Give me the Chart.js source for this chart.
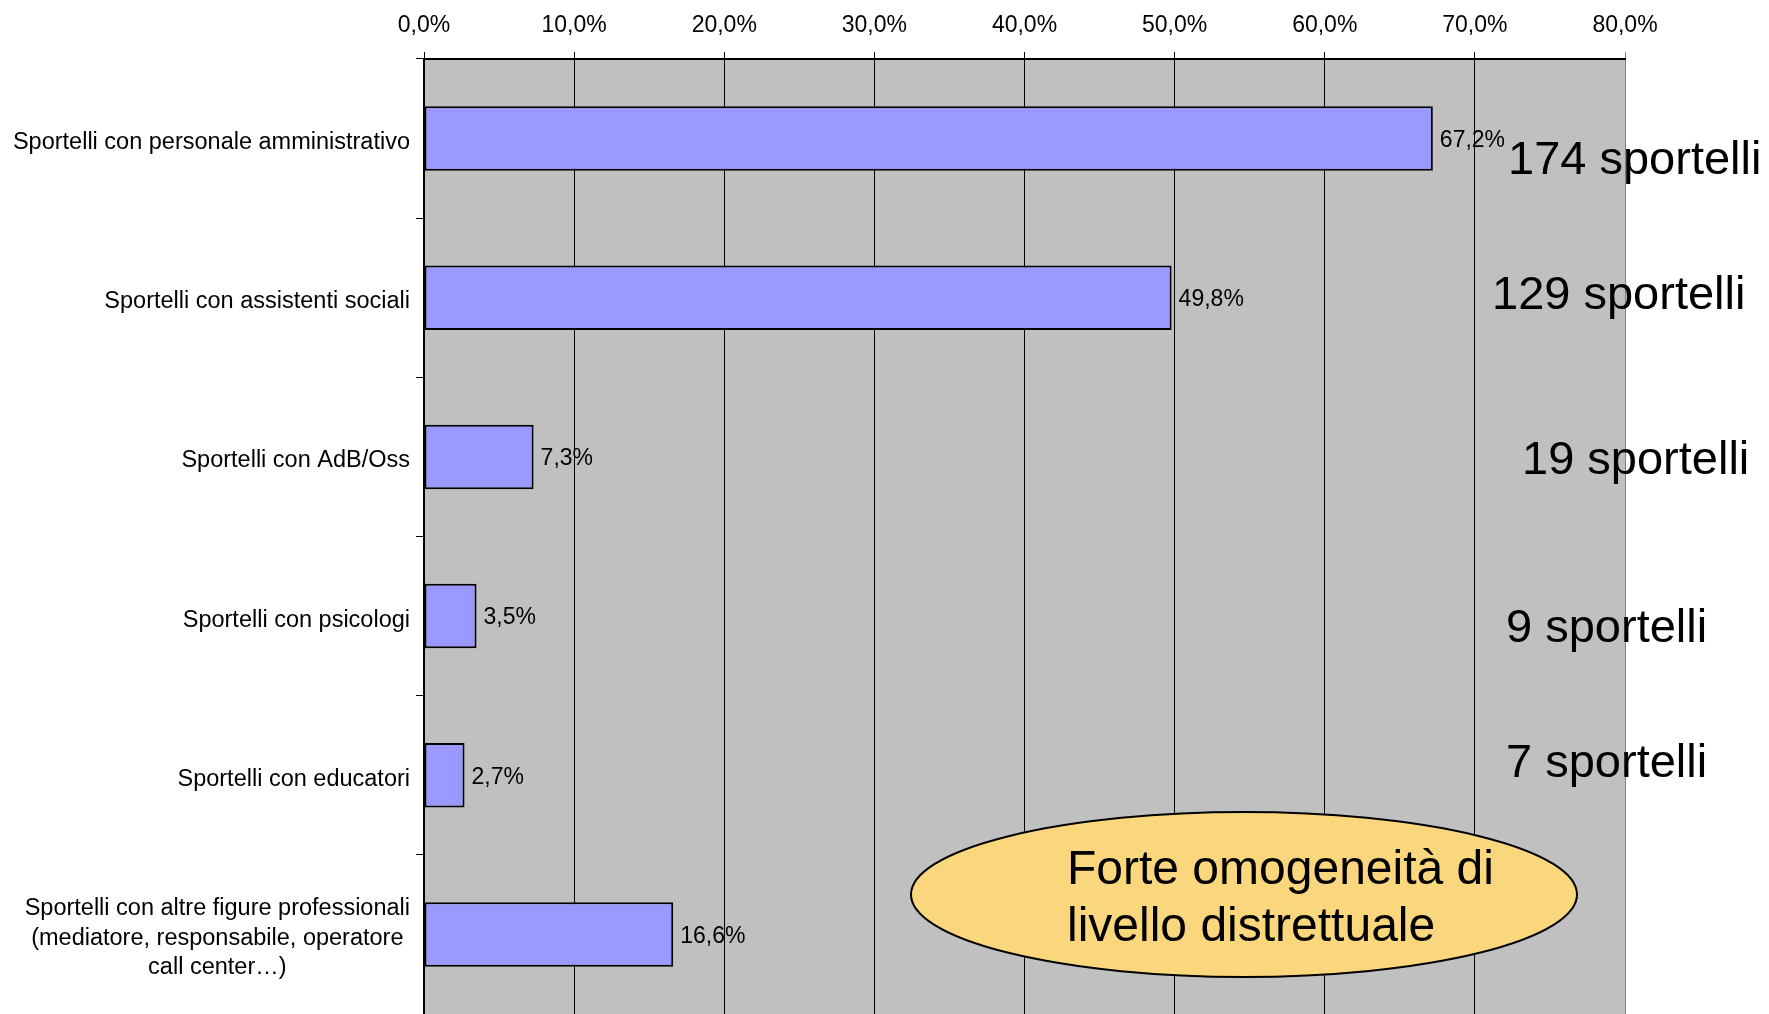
<!DOCTYPE html>
<html>
<head>
<meta charset="utf-8">
<script src="https://cdn.jsdelivr.net/npm/chart.js@4"></script>
<style>
  body { margin: 0; background: #fff; }
  #wrap { width: 1769px; height: 1014px; }
</style>
</head>
<body>
<div id="wrap"><canvas id="grafico" width="1769" height="1014"></canvas></div>
<script>
// dati
var categorie = [
    'Sportelli con personale amministrativo',
    'Sportelli con assistenti sociali',
    'Sportelli con AdB/Oss',
    'Sportelli con psicologi',
    'Sportelli con educatori',
    ['Sportelli con altre figure professionali', '(mediatore, responsabile, operatore', 'call center\u2026)']
];
var percentuali = [67.2, 49.8, 7.3, 3.5, 2.7, 16.6];
var sportelli = [174, 129, 19, 9, 7];
var tickMin = 0, tickMax = 80, tickStep = 10;
var notaOvale = ['Forte omogeneit\u00e0 di', 'livello distrettuale'];

var FONT = "'Liberation Sans', Arial, sans-serif";

function fmt(v) {
    return Number(v).toFixed(1).replace('.', ',') + '%';
}

// posizioni delle scritte grandi (rispetto al bordo destro dell'area e al centro della categoria)
var notePos = [
    { dx: -117, dy: 35 },
    { dx: -133, dy: 11 },
    { dx: -103, dy: 17 },
    { dx: -119, dy: 26 },
    { dx: -119, dy: 2 }
];

var sfondo = {
    id: 'sfondo',
    beforeDraw: function (chart) {
        var a = chart.chartArea, c = chart.ctx;
        c.save();
        c.fillStyle = '#C0C0C0';
        c.fillRect(a.left, a.top, a.right - a.left, a.bottom - a.top);
        c.restore();
    }
};

var etichette = {
    id: 'etichette',
    afterDatasetsDraw: function (chart) {
        var c = chart.ctx;
        var ys = chart.scales.y;
        c.save();
        c.fillStyle = '#000';
        c.textBaseline = 'middle';

        // etichette categorie
        c.font = '23.5px ' + FONT;
        categorie.forEach(function (lab, i) {
            var y = ys.getPixelForValue(i) + 4;
            var xr = ys.right - 14;
            if (Array.isArray(lab)) {
                var w = 0;
                lab.forEach(function (l) { w = Math.max(w, c.measureText(l).width); });
                var cx = xr - w / 2;
                var lh = 29.5;
                c.textAlign = 'center';
                lab.forEach(function (l, k) {
                    c.fillText(l, cx, y + (k - (lab.length - 1) / 2) * lh);
                });
            } else {
                c.textAlign = 'right';
                c.fillText(lab, xr, y);
            }
        });

        // valori sulle barre
        c.font = '23px ' + FONT;
        c.textAlign = 'left';
        chart.getDatasetMeta(0).data.forEach(function (bar, i) {
            c.fillText(fmt(percentuali[i]), bar.x + 7, bar.y + 2);
        });
        c.restore();
    },
    afterDraw: function (chart) {
        var c = chart.ctx;
        var a = chart.chartArea;
        var ys = chart.scales.y;
        c.save();
        c.fillStyle = '#000';
        c.textAlign = 'left';
        c.textBaseline = 'alphabetic';
        c.font = '47px ' + FONT;
        sportelli.forEach(function (n, i) {
            var p = notePos[i];
            c.fillText(n + ' sportelli', a.right + p.dx, ys.getPixelForValue(i) + p.dy);
        });

        // ovale
        var cx = a.right - 381, cy = a.bottom - 119.5;
        c.beginPath();
        c.ellipse(cx, cy, 333, 82.5, 0, 0, Math.PI * 2);
        c.fillStyle = '#FAD67C';
        c.fill();
        c.lineWidth = 2;
        c.strokeStyle = '#000';
        c.stroke();
        c.fillStyle = '#000';
        c.font = '48px ' + FONT;
        c.fillText(notaOvale[0], cx - 177, cy - 11);
        c.fillText(notaOvale[1], cx - 177, cy + 46);
        c.restore();
    }
};

var ctx = document.getElementById('grafico').getContext('2d');
var grafico = new Chart(ctx, {
    type: 'bar',
    data: {
        labels: categorie,
        datasets: [{
            data: percentuali,
            backgroundColor: '#9999FF',
            borderColor: '#000000',
            borderWidth: 2,
            borderSkipped: false,
            barPercentage: 0.405,
            categoryPercentage: 1
        }]
    },
    options: {
        indexAxis: 'y',
        responsive: false,
        animation: false,
        layout: { padding: { left: 0, right: 144, top: 0, bottom: 0 } },
        plugins: {
            legend: { display: false },
            tooltip: { enabled: false }
        },
        scales: {
            x: {
                position: 'top',
                min: tickMin,
                max: tickMax,
                ticks: {
                    stepSize: tickStep,
                    color: '#000',
                    font: { family: FONT, size: 23 },
                    padding: 13,
                    callback: function (v) { return fmt(v); }
                },
                grid: {
                    color: function (c) { return c.tick && c.tick.value === tickMax ? '#808080' : '#000'; },
                    lineWidth: 1,
                    tickLength: 7
                },
                border: { color: '#000', width: 2 },
                afterFit: function (s) { s.height = 59; }
            },
            y: {
                ticks: { display: false },
                grid: {
                    drawOnChartArea: false,
                    color: '#000',
                    tickLength: 8
                },
                border: { color: '#000', width: 2 },
                afterFit: function (s) { s.width = 424; }
            }
        }
    },
    plugins: [sfondo, etichette]
});
</script>
</body>
</html>
